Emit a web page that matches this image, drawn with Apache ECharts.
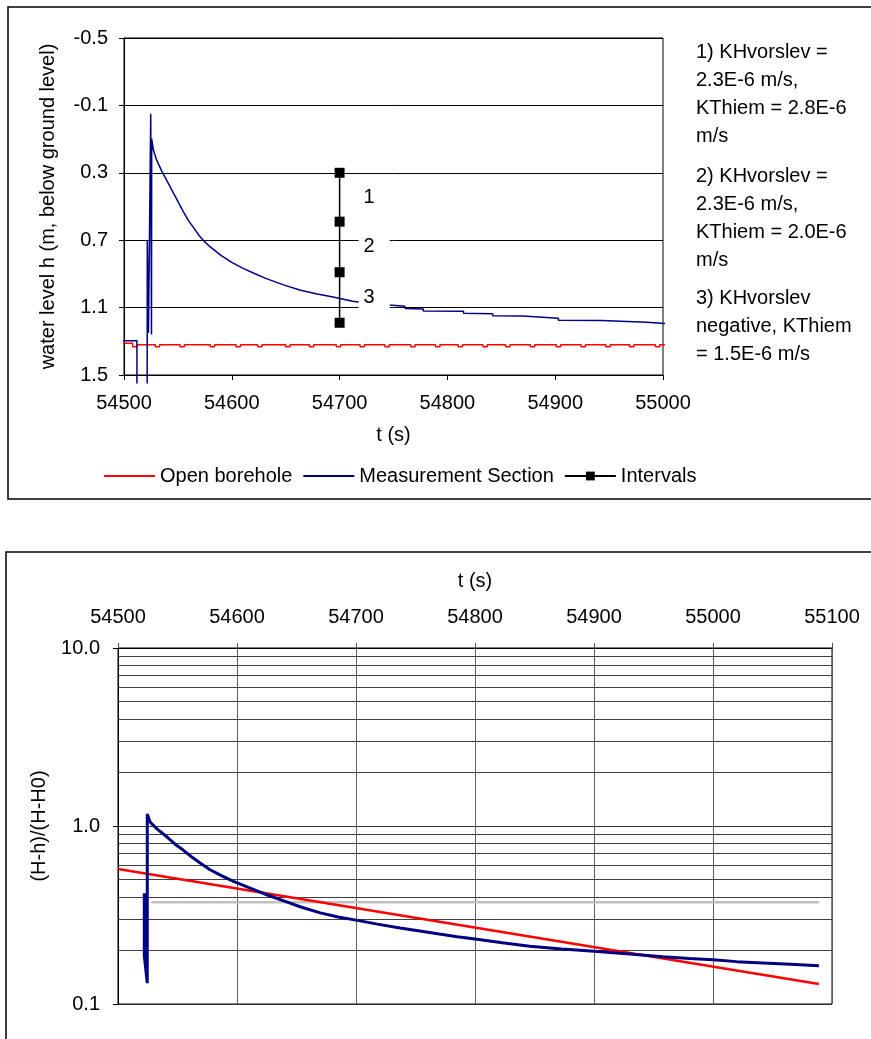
<!DOCTYPE html>
<html>
<head>
<meta charset="utf-8">
<script src="https://cdn.jsdelivr.net/npm/echarts@6/dist/echarts.min.js"></script>
<style>
html,body{margin:0;padding:0;background:#fff;}
#chart{width:871px;height:1039px;}
</style>
</head>
<body>
<div id="chart"></div>
<script>
// ---------- Top chart: water level h (m, below ground level) vs t (s) ----------
// Open borehole (stepped trace)
const openT = [54494, 54508, 54512, 54529, 54533, 54552, 54556, 54580, 54584, 54604, 54608,
  54624, 54628, 54650, 54654, 54672, 54676, 54697, 54701, 54719, 54723, 54742, 54746,
  54766, 54770, 54789, 54793, 54810, 54814, 54833, 54837, 54854, 54858, 54877, 54881,
  54901, 54905, 54924, 54928, 54947, 54951, 54969, 54973, 54993, 54997, 55008];
const openH = [1.312, 1.332, 1.320, 1.332, 1.320, 1.332, 1.320, 1.332, 1.320, 1.332, 1.320,
  1.332, 1.320, 1.332, 1.320, 1.332, 1.320, 1.332, 1.320, 1.332, 1.320, 1.332, 1.320,
  1.332, 1.320, 1.332, 1.320, 1.332, 1.320, 1.332, 1.320, 1.332, 1.320, 1.332, 1.320,
  1.332, 1.320, 1.332, 1.320, 1.332, 1.320, 1.332, 1.320, 1.332, 1.320, 1.320];

// Measurement Section (null = gap in the trace)
const measT = [54494, 54512, 54512, 54516, 54521.5, 54521.6, 54522.7, 54524.8, 54525.5, 54525.7, 54527.2, 54527.3,
  54530, 54535, 54540, 54545, 54550, 54555, 54560, 54565, 54570, 54575, 54580, 54590,
  54600, 54610, 54620, 54632, 54648, 54663, 54678, 54694, 54712, 54730, 54745.8,
  54760.7, 54760.7, 54777.7, 54777.7, 54815, 54815, 54842, 54842, 54870, 54870,
  54903, 54903, 54943, 54943, 54985, 54985, 55008];
const measH = [1.296, 1.296, 1.55, null, 1.55, 0.70, 1.25, -0.05, 1.26, 0.099, 0.099, 0.165,
  0.22, 0.29, 0.35, 0.41, 0.47, 0.53, 0.585, 0.63, 0.675, 0.71, 0.74, 0.79,
  0.832, 0.866, 0.895, 0.928, 0.965, 0.996, 1.018, 1.037, 1.062, 1.076, 1.085,
  1.092, 1.105, 1.108, 1.120, 1.122, 1.134, 1.136, 1.148, 1.150, 1.161,
  1.163, 1.175, 1.177, 1.185, 1.187, 1.195, 1.197];

// Intervals
const intervalT = [54700, 54700, 54700, 54700];
const intervalH = [0.30, 0.59, 0.89, 1.19];
const intervalLabels = ['1', '2', '3'];

const noteTexts = [
  '1) KHvorslev =\n2.3E-6 m/s,\nKThiem = 2.8E-6\nm/s',
  '2) KHvorslev =\n2.3E-6 m/s,\nKThiem = 2.0E-6\nm/s',
  '3) KHvorslev\nnegative, KThiem\n= 1.5E-6 m/s'
];

// ---------- Bottom chart: (H-h)/(H-H0) vs t (s), log scale ----------
const ratioT = [54522.1, 54522.1, 54524.6, 54524.6, 54527.1, 54533, 54541, 54548, 54555, 54562,
  54569, 54577, 54586, 54597, 54610, 54625, 54640, 54653, 54670, 54685, 54700, 54718,
  54737, 54755, 54770, 54785, 54800, 54823, 54846, 54873, 54900, 54930, 54958, 54980,
  55000, 55020, 55042, 55065, 55089];
const ratioV = [0.419, 0.187, 0.131, 1.168, 1.05, 0.96, 0.87, 0.79, 0.73, 0.67,
  0.62, 0.57, 0.53, 0.489, 0.45, 0.411, 0.378, 0.352, 0.325, 0.308, 0.296, 0.281,
  0.267, 0.256, 0.247, 0.239, 0.232, 0.221, 0.211, 0.204, 0.198, 0.191, 0.184, 0.180,
  0.177, 0.173, 0.170, 0.167, 0.164];

const fitT = [54500, 55089];
const fitV = [0.573, 0.1296];

const levelT = [54528, 55089];
const levelV = [0.373, 0.373];

const logMinorValues = [0.2, 0.3, 0.4, 0.5, 0.6, 0.7, 0.8, 0.9, 2, 3, 4, 5, 6, 7, 8, 9];

// ---------- build ----------
const FONT = "'Liberation Sans', Arial, Helvetica, sans-serif";
const zip = (a, b) => a.map((v, i) => [v, b[i] == null ? '-' : b[i]]);
const mids = intervalLabels.map((n, i) => ({
  name: n,
  value: [intervalT[i], (intervalH[i] + intervalH[i + 1]) / 2]
}));

const txt = { color: '#000', fontSize: 20, fontFamily: FONT };
const plain = v => String(Math.round(v));

const chart = echarts.init(document.getElementById('chart'), null, { renderer: 'canvas' });
chart.setOption({
  animation: false,
  backgroundColor: '#fff',
  textStyle: { fontFamily: FONT },
  graphic: [
    { type: 'rect', shape: { x: 8, y: 7, width: 900, height: 492 }, style: { fill: 'none', stroke: '#000', lineWidth: 1.5 }, z: -1 },
    { type: 'rect', shape: { x: 6, y: 552, width: 900, height: 600 }, style: { fill: 'none', stroke: '#000', lineWidth: 1.5 }, z: -1 },
    { type: 'text', left: 696, top: 38, style: { text: noteTexts[0], fontSize: 20, fontFamily: FONT, lineHeight: 28, fill: '#000' } },
    { type: 'text', left: 696, top: 162, style: { text: noteTexts[1], fontSize: 20, fontFamily: FONT, lineHeight: 28, fill: '#000' } },
    { type: 'text', left: 696, top: 284, style: { text: noteTexts[2], fontSize: 20, fontFamily: FONT, lineHeight: 28, fill: '#000' } }
  ],
  legend: {
    data: [
      { name: 'Open borehole', itemStyle: { opacity: 0 } },
      { name: 'Measurement Section', itemStyle: { opacity: 0 } },
      { name: 'Intervals' }
    ],
    left: 103, top: 466, padding: 0,
    itemWidth: 51, itemHeight: 11, itemGap: 10,
    selectedMode: false,
    textStyle: txt
  },
  grid: [
    { left: 124, top: 38, width: 539, height: 337, show: true, borderColor: '#000', borderWidth: 1, backgroundColor: 'transparent' },
    { left: 118, top: 648, width: 714, height: 356, show: true, borderColor: '#000', borderWidth: 1, backgroundColor: 'transparent' }
  ],
  xAxis: [
    {
      gridIndex: 0, type: 'value', min: 54500, max: 55000, interval: 100,
      axisLine: { show: true, onZero: false, lineStyle: { color: '#000', width: 1 } },
      axisTick: { show: true, length: 5, lineStyle: { color: '#000' } },
      axisLabel: Object.assign({ margin: 18, formatter: plain }, txt),
      splitLine: { show: false },
      name: 't (s)', nameLocation: 'middle', nameGap: 50, nameTextStyle: txt
    },
    {
      gridIndex: 1, type: 'value', position: 'top', min: 54500, max: 55100, interval: 100,
      axisLine: { show: true, onZero: false, lineStyle: { color: '#000', width: 1 } },
      axisTick: { show: true, length: 5, lineStyle: { color: '#555' } },
      axisLabel: Object.assign({ margin: 21, formatter: plain }, txt),
      splitLine: { show: true, lineStyle: { color: '#606060', width: 1 } },
      name: 't (s)', nameLocation: 'middle', nameGap: 57, nameTextStyle: txt
    }
  ],
  yAxis: [
    {
      gridIndex: 0, type: 'value', inverse: true, min: -0.5, max: 1.5, interval: 0.4,
      axisLine: { show: true, onZero: false, lineStyle: { color: '#000', width: 1 } },
      axisTick: { show: true, length: 5, lineStyle: { color: '#000' } },
      axisLabel: Object.assign({ margin: 16, formatter: v => (+v).toFixed(1) }, txt),
      splitLine: { show: true, lineStyle: { color: '#000', width: 1 } },
      name: 'water level h (m, below ground level)', nameLocation: 'middle', nameGap: 66, nameTextStyle: txt
    },
    {
      gridIndex: 1, type: 'log', logBase: 10, min: 0.1, max: 10,
      axisLine: { show: true, onZero: false, lineStyle: { color: '#000', width: 1 } },
      axisTick: { show: true, length: 5, lineStyle: { color: '#000' } },
      axisLabel: Object.assign({ margin: 18, formatter: v => (+v).toFixed(1) }, txt),
      splitLine: { show: true, lineStyle: { color: '#333', width: 1 } },
      name: '(H-h)/(H-H0)', nameLocation: 'middle', nameGap: 69, nameTextStyle: txt
    }
  ],
  series: [
    {
      name: 'Open borehole', type: 'line', xAxisIndex: 0, yAxisIndex: 0,
      data: zip(openT, openH), step: 'end', symbol: 'none', showSymbol: false,
      color: '#ff0000', lineStyle: { color: '#ff0000', width: 1.5 }, clip: false, z: 2
    },
    {
      name: 'Measurement Section', type: 'line', xAxisIndex: 0, yAxisIndex: 0,
      data: zip(measT, measH), symbol: 'none', showSymbol: false, connectNulls: false,
      color: '#000080', lineStyle: { color: '#000080', width: 1.5 }, clip: false, z: 3
    },
    {
      name: 'Intervals', type: 'line', xAxisIndex: 0, yAxisIndex: 0,
      data: zip(intervalT, intervalH), symbol: 'rect', symbolSize: 10, showSymbol: true,
      color: '#000', itemStyle: { color: '#000' }, lineStyle: { color: '#000', width: 1.5 }, z: 4
    },
    {
      name: 'interval labels', type: 'scatter', xAxisIndex: 0, yAxisIndex: 0,
      data: mids, symbolSize: 0, silent: true, z: 6,
      itemStyle: { opacity: 1 },
      label: {
        show: true, position: 'right', distance: 19, formatter: p => p.name, opacity: 1,
        backgroundColor: '#fff', padding: [1, 15, 1, 5], color: '#000', fontSize: 20, fontFamily: FONT
      }
    },
    {
      name: 'level', type: 'line', xAxisIndex: 1, yAxisIndex: 1,
      data: zip(levelT, levelV), symbol: 'none', showSymbol: false,
      color: '#c0c0c0', lineStyle: { color: '#c0c0c0', width: 2.5 }, z: 2,
      markLine: {
        silent: true, symbol: ['none', 'none'], z: 1, animation: false,
        label: { show: false },
        lineStyle: { color: '#404040', width: 1, type: 'solid' },
        emphasis: { disabled: true },
        data: logMinorValues.map(v => ({ yAxis: v }))
      }
    },
    {
      name: 'fit', type: 'line', xAxisIndex: 1, yAxisIndex: 1,
      data: zip(fitT, fitV), symbol: 'none', showSymbol: false,
      color: '#ff0000', lineStyle: { color: '#ff0000', width: 2.5 }, z: 3
    },
    {
      name: 'ratio', type: 'line', xAxisIndex: 1, yAxisIndex: 1,
      data: zip(ratioT, ratioV), symbol: 'none', showSymbol: false,
      color: '#000080', lineStyle: { color: '#000080', width: 3 }, z: 4
    }
  ]
});
</script>
</body>
</html>
